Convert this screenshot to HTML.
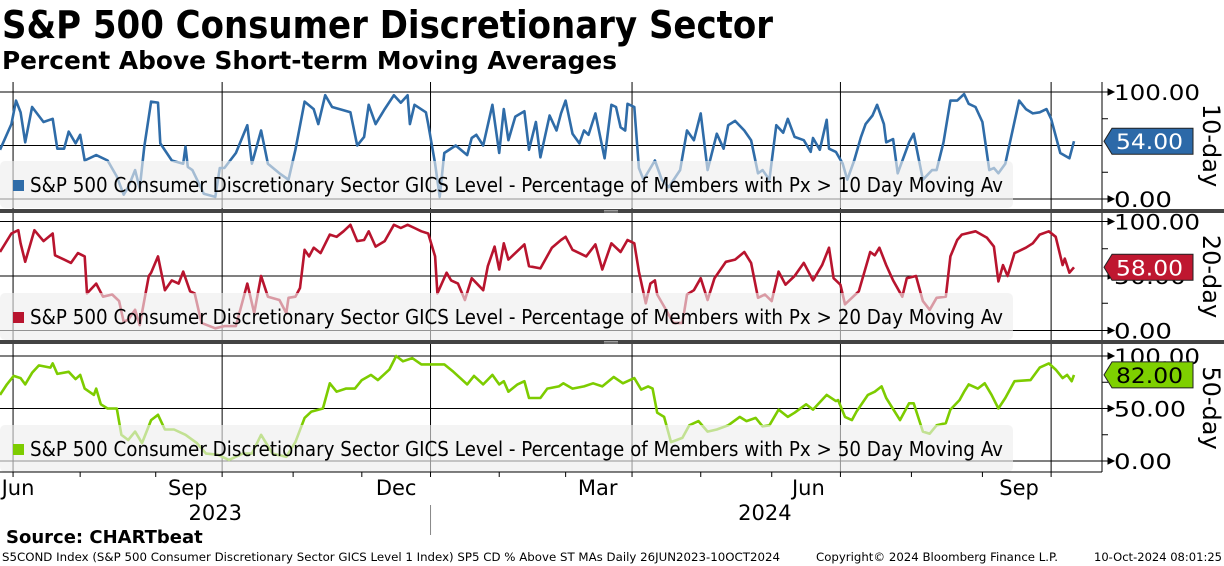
<!DOCTYPE html>
<html><head><meta charset="utf-8"><style>
body{margin:0;background:#fff;}
svg{display:block;font-family:"DejaVu Sans","Liberation Sans",sans-serif;}
</style></head><body>
<svg id="chart" width="1224" height="566" viewBox="0 0 1224 566" xmlns="http://www.w3.org/2000/svg">
<text x="2" y="38" font-size="38" font-weight="bold" textLength="771" lengthAdjust="spacingAndGlyphs">S&amp;P 500 Consumer Discretionary Sector</text>
<text x="2" y="69" font-size="25" font-weight="bold" textLength="615" lengthAdjust="spacingAndGlyphs">Percent Above Short-term Moving Averages</text>
<g id="grid"></g>
<g id="series"></g>
<g id="overlay"></g>
<text x="6" y="543" font-size="18" font-weight="bold">Source: CHARTbeat</text>
<text x="2" y="561" font-size="11.5" textLength="778" lengthAdjust="spacingAndGlyphs">S5COND Index (S&amp;P 500 Consumer Discretionary Sector GICS Level 1 Index) SP5 CD % Above ST MAs  Daily 26JUN2023-10OCT2024</text>
<text x="816" y="561" font-size="11.5" textLength="242" lengthAdjust="spacingAndGlyphs">Copyright© 2024 Bloomberg Finance L.P.</text>
<text x="1094" y="561" font-size="11.5" textLength="128" lengthAdjust="spacingAndGlyphs">10-Oct-2024 08:01:25</text>
</svg>
<script>
// Data: day offsets since 26 Jun 2023, values in percent
const blueDays=[0,5,7,9,11,14,19,23,25,28,30,33,35,37,42,47,51,54,56,59,61,63,66,69,70,75,80,81,82,84,89,94,96,98,103,108,110,114,117,122,126,129,133,137,139,142,145,150,153,156,159,161,164,168,172,175,178,179,181,186,187,190,192,194,199,204,206,208,211,215,218,220,222,225,229,231,234,236,240,243,245,247,250,253,255,257,260,264,267,269,271,273,274,277,279,281,286,289,292,297,300,303,306,309,313,316,318,321,325,328,331,333,336,339,342,344,347,351,354,355,358,361,362,365,368,370,373,376,378,381,383,386,387,390,392,397,399,403,407,409,412,415,418,421,423,426,429,432,434,436,439,445,448,451,454,457,459,463,467,469];
const blueVals=[46,70,92,81,53,86,72,75,47,47,63,52,60,36,41,36,21,4,11,27,10,49,91,90,52,36,33,49,30,27,5,2,29,29,43,69,33,64,33,24,18,46,91,84,70,97,86,83,81,50,58,88,70,84,97,90,97,70,88,81,70,33,2,43,50,41,57,60,50,88,43,84,55,77,82,46,72,39,78,64,80,92,61,52,64,60,80,38,88,86,67,64,89,86,29,18,36,18,11,27,64,55,80,27,61,47,69,73,64,55,24,27,18,69,62,75,58,55,44,57,46,74,47,44,33,18,36,58,70,78,88,70,53,56,24,53,61,18,27,27,53,92,92,98,89,86,72,27,29,24,33,92,84,80,81,84,75,43,38,54];
const redDays=[0,5,8,9,11,15,19,23,24,28,31,34,37,38,42,45,49,52,54,56,59,61,65,66,69,72,75,78,80,83,85,88,94,98,103,108,111,114,117,122,125,126,129,131,133,135,137,140,144,147,150,153,156,159,161,164,168,172,175,178,181,184,187,190,191,195,197,200,203,206,211,213,216,218,220,222,225,229,231,236,241,245,247,250,256,260,263,267,271,274,277,279,282,284,286,287,290,294,298,300,303,306,309,312,317,321,325,328,331,334,337,340,343,347,351,355,359,362,364,367,369,372,375,380,382,384,387,390,394,396,400,403,406,409,413,415,418,420,426,431,434,436,438,440,443,448,451,454,458,461,464,465,467,469];
const redVals=[72,89,92,80,63,92,82,89,69,65,62,71,68,34,43,31,33,27,8,10,19,5,50,53,68,37,46,43,54,36,34,7,2,4,4,43,16,50,31,28,16,30,31,39,74,68,76,71,88,86,91,97,82,83,91,77,82,97,94,97,94,91,89,68,34,53,46,43,28,48,37,59,77,56,80,65,71,79,59,57,76,83,86,74,68,79,56,80,72,83,80,54,25,43,46,33,22,7,7,33,37,48,28,48,63,65,72,62,30,33,27,54,42,50,62,46,60,76,48,42,24,30,36,72,69,76,60,46,31,48,50,27,19,30,31,68,83,88,91,85,77,45,60,50,71,76,80,88,91,86,60,66,53,58];
const greenDays=[0,3,6,9,11,14,17,22,23,25,30,33,35,37,41,42,44,47,51,53,56,59,62,66,69,72,76,81,86,90,95,100,106,110,114,119,125,129,133,136,141,144,147,151,155,158,162,165,170,173,176,180,184,189,194,198,204,207,211,215,218,220,222,226,229,231,236,239,244,246,250,255,259,263,268,272,277,280,283,285,287,290,293,298,301,305,309,313,318,323,326,330,333,336,340,344,347,352,355,361,365,366,369,372,374,379,382,385,387,393,397,399,403,406,409,413,415,419,421,423,427,430,433,436,439,443,450,454,458,461,464,466,468,469];
const greenVals=[63,73,81,79,73,84,91,89,93,83,85,78,82,69,63,69,54,50,50,25,20,28,17,39,44,30,30,25,17,7,6,1,7,7,25,7,4,18,41,47,50,74,66,69,69,77,82,77,87,100,95,98,92,92,92,85,73,81,73,82,73,76,66,73,76,60,60,69,71,74,69,71,74,71,80,74,79,68,71,69,46,42,18,22,34,38,28,30,34,42,38,41,33,34,49,42,46,54,49,63,57,58,42,39,47,63,66,71,60,39,55,55,28,26,34,36,49,58,66,73,69,74,63,50,60,76,77,89,93,87,79,82,76,82];
const seriesNames=["10-day","20-day","50-day"];
const lastVals=["54.00","58.00","82.00"];
const monthLabels=["Jun","Sep","Dec","Mar","Jun","Sep"];
const monthLabelDays=[-10,82,173,261,353,445];
const quarterDays=[5.7,97,188,276,367,459];
const monthTickDays=[5.7,35,68,97,128,158,188,218,247,276,306,337,367,398,429,459];
const yearLabels=["2023","2024"];
const yearLabelDays=[94,334];
const yearSepDay=188;

const NS="http://www.w3.org/2000/svg";
const PX_PER_DAY=2.29, X0=0, PLOT_R=1102;
function xS(d){return X0+d*PX_PER_DAY;}
const panels=[
 {top:92,zero:199,ptop:82,pbot:209,color:"#2f6ca8",tag:"#2c69a8",txt:"#fff",days:blueDays,vals:blueVals,labels:[100,0],box:[161,208]},
 {top:221.5,zero:330.5,ptop:213,pbot:340,color:"#b8142e",tag:"#bf1730",txt:"#fff",days:redDays,vals:redVals,labels:[100,50,0],box:[293,340]},
 {top:356,zero:461,ptop:344,pbot:472,color:"#7dcc00",tag:"#7ed000",txt:"#000",days:greenDays,vals:greenVals,labels:[100,50,0],box:[425,472]}
];
function yS(p,v){return p.zero-(p.zero-p.top)*v/100;}
function mk(tag,attrs,parent){const e=document.createElementNS(NS,tag);for(const k in attrs)e.setAttribute(k,attrs[k]);parent.appendChild(e);return e;}
const grid=document.getElementById('grid'),ser=document.getElementById('series'),ov=document.getElementById('overlay');

panels.forEach((p,i)=>{
  [100,50,0].forEach(v=>{
    const l=mk('line',{x1:0,x2:PLOT_R,y1:yS(p,v),y2:yS(p,v),stroke:'#000','stroke-width':1},grid);
    
    
  });
  quarterDays.forEach(d=>{
    const l=mk('line',{x1:xS(d),x2:xS(d),y1:p.ptop,y2:p.pbot,stroke:'#000','stroke-width':1},grid);
    
    
  });
  const ax=mk('line',{x1:PLOT_R,x2:PLOT_R,y1:p.ptop,y2:p.pbot,stroke:'#000','stroke-width':1},grid);
  
  
  [25,75].forEach(v=>{
    const t=mk('line',{x1:PLOT_R,x2:PLOT_R+6,y1:yS(p,v),y2:yS(p,v),stroke:'#000'},grid);
    
    
  });
  p.labels.forEach(v=>{
    const y=yS(p,v);
    const a=mk('path',{d:`M${PLOT_R} ${y} H${PLOT_R+6} M${PLOT_R+6} ${y-3} L${PLOT_R+12} ${y} L${PLOT_R+6} ${y+3}Z`,stroke:'#000',fill:'#000'},grid);
    
    
    const t=mk('text',{x:PLOT_R+12,y:y+8,'font-size':21,textLength:v===100?86:(v===50?72:58),lengthAdjust:'spacingAndGlyphs'},grid);
    t.textContent=v.toFixed(2);
    
    
  });
  let d='';
  p.days.forEach((dd,j)=>{d+=(j?'L':'M')+xS(dd).toFixed(1)+' '+yS(p,p.vals[j]).toFixed(1);});
  const pl=mk('path',{d:d,fill:'none',stroke:p.color,'stroke-width':2.6,'stroke-linejoin':'round'},ser);
  
  
  const bx=mk('rect',{x:0,y:p.box[0],width:1013,height:p.box[1]-p.box[0],rx:5,fill:'#eeeeee','fill-opacity':0.62},ov);
  
  
  const sq=mk('rect',{x:13,y:p.box[1]-28,width:11,height:11,fill:p.color},ov);
  
  
  const lt=mk('text',{x:30,y:p.box[1]-16,'font-size':20,textLength:973,lengthAdjust:'spacingAndGlyphs'},ov);
  lt.textContent='S&P 500 Consumer Discretionary Sector GICS Level - Percentage of Members with Px > '+seriesNames[i].split('-')[0]+' Day Moving Av';
  
  
  const lv=p.vals[p.vals.length-1], ty=yS(p,lv);
  const tg=mk('path',{d:`M1104 ${ty} L1112 ${ty-13} H1193 V${ty+13} H1112 Z`,fill:p.tag,stroke:'#222','stroke-width':1},ov);
  
  
  const tt=mk('text',{x:1116,y:ty+8,'font-size':21,fill:p.txt,textLength:67,lengthAdjust:'spacingAndGlyphs'},ov);
  tt.textContent=lastVals[i];
  
  
  const cy=(p.ptop+p.pbot)/2;
  const rt=mk('text',{x:1203,y:cy,'font-size':24,'text-anchor':'middle',transform:`rotate(90 1203 ${cy})`},ov);
  rt.textContent=seriesNames[i];
  
  
});
[[209,213],[340,344]].forEach(s=>{
  const r=mk('rect',{x:0,y:s[0],width:1224,height:s[1]-s[0],fill:'#444'},ov);
  
  
  const g=mk('path',{d:`M604 ${s[0]+1.5}H618M604 ${s[0]+3}H618`,stroke:'#bbb','stroke-width':0.8},ov);
  
  
});
const bl=mk('line',{x1:0,x2:PLOT_R,y1:472,y2:472,stroke:'#000'},ov);


monthTickDays.forEach(d=>{
  const t=mk('line',{x1:xS(d),x2:xS(d),y1:472,y2:477,stroke:'#000'},ov);
  
  
});
monthLabels.forEach((m,i)=>{
  const x=Math.max(xS(monthLabelDays[i]),18);
  const t=mk('text',{x:x,y:495,'font-size':21,'text-anchor':'middle'},ov);
  t.textContent=m;
  
  
});
yearLabels.forEach((y,i)=>{
  const t=mk('text',{x:xS(yearLabelDays[i]),y:520,'font-size':21,'text-anchor':'middle'},ov);
  t.textContent=y;
  
  
});
const ysep=mk('line',{x1:xS(yearSepDay),x2:xS(yearSepDay),y1:505,y2:535,stroke:'#888'},ov);


</script>
</body></html>
